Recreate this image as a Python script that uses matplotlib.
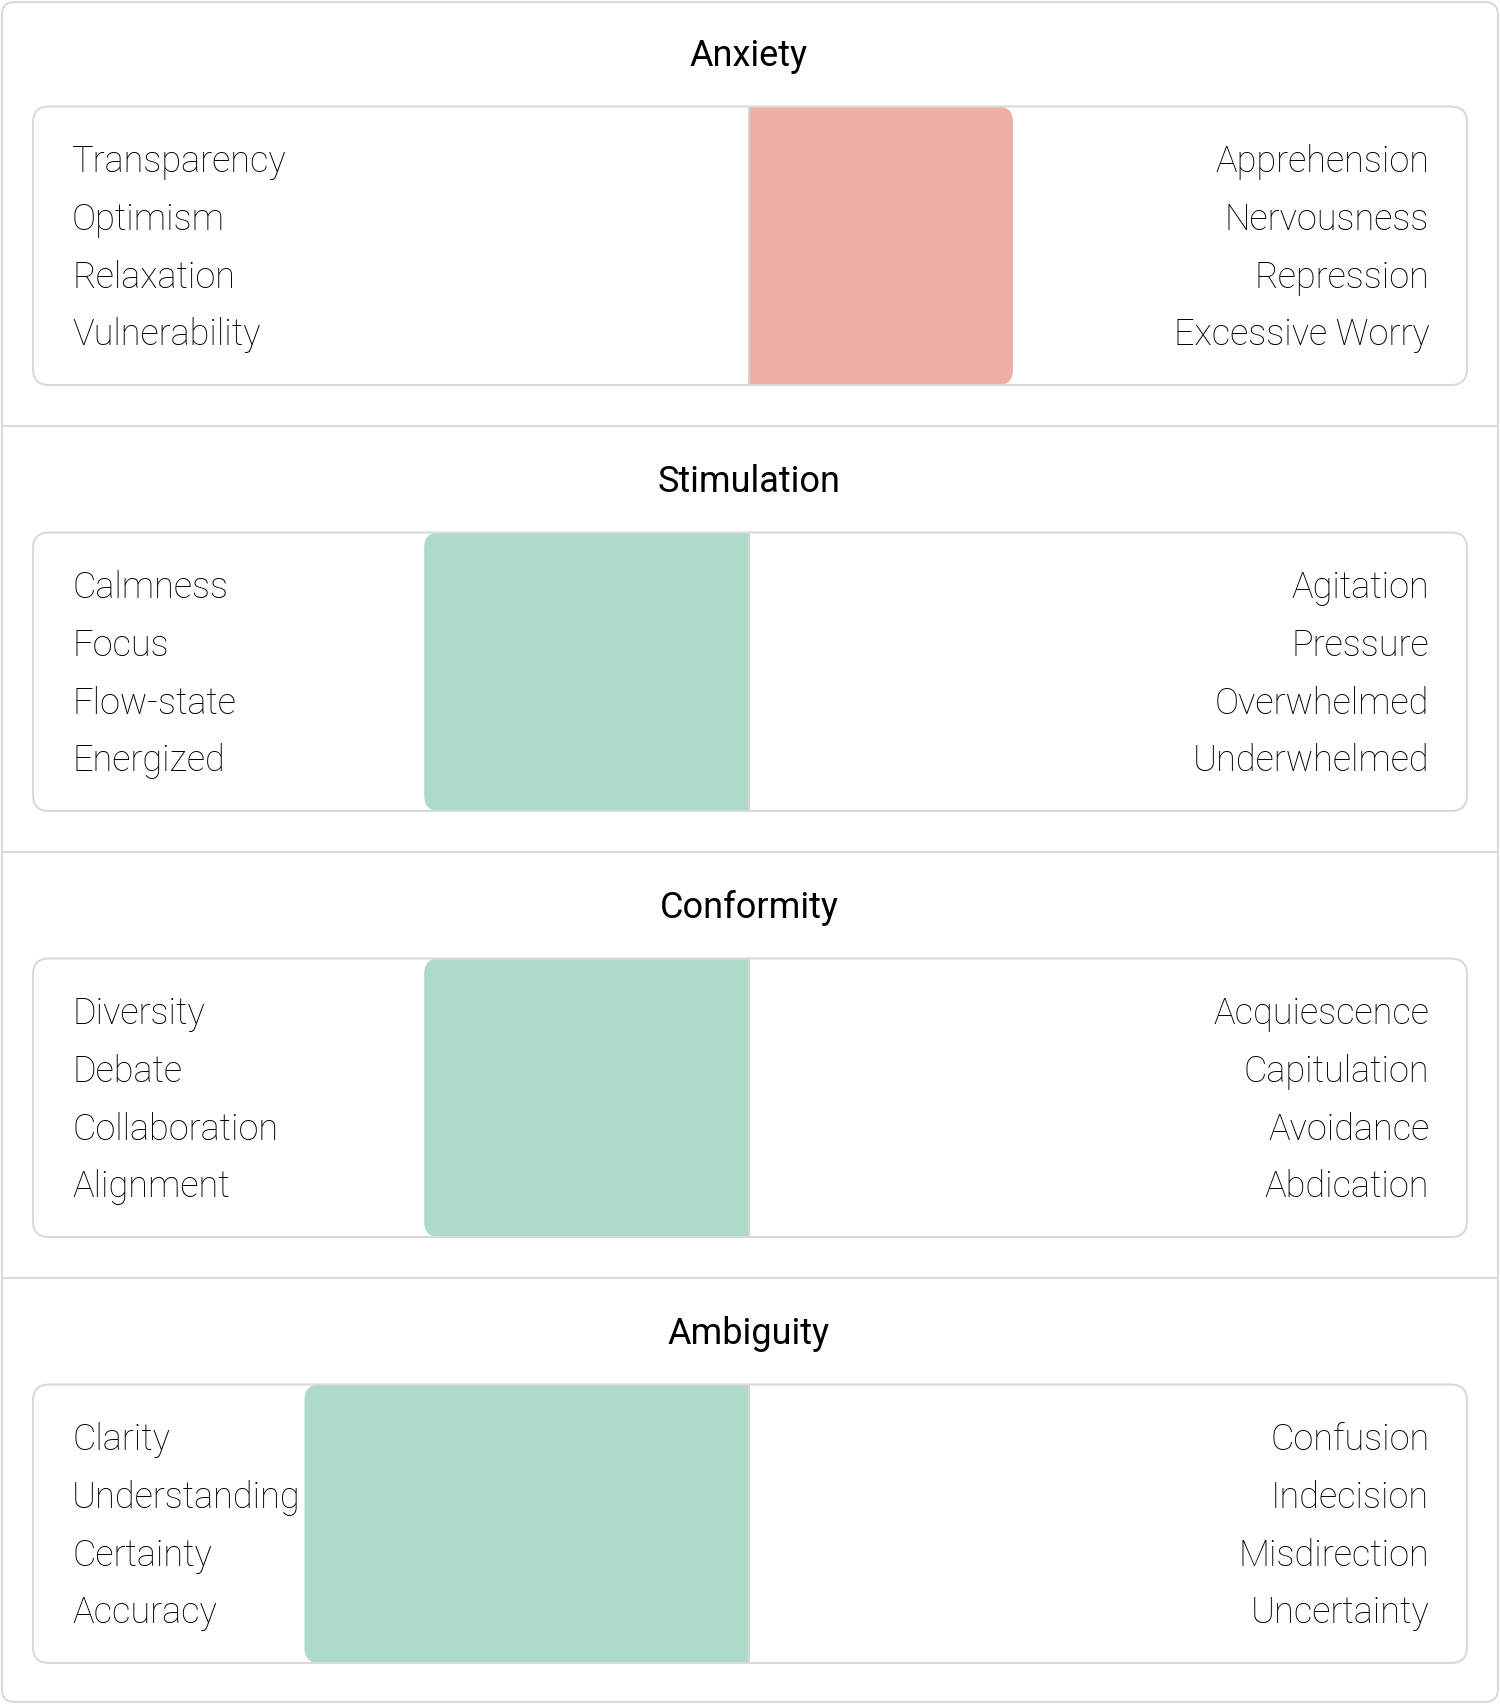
import matplotlib
matplotlib.use("Agg")
import matplotlib.pyplot as plt
from matplotlib.patches import FancyBboxPatch, Rectangle

plt.rcParams['font.family'] = ['Roboto', 'DejaVu Sans']

# data
dimensions = ['Anxiety', 'Stimulation', 'Conformity', 'Ambiguity']
scores = [36.8, -45.3, -45.3, -62.0]   # -100 (left pole) .. +100 (right pole)
bar_colors = ['#ecaea5', '#aedbc8', '#aedbc8', '#aedbc8']
left_terms = [
    ['Transparency', 'Optimism', 'Relaxation', 'Vulnerability'],
    ['Calmness', 'Focus', 'Flow-state', 'Energized'],
    ['Diversity', 'Debate', 'Collaboration', 'Alignment'],
    ['Clarity', 'Understanding', 'Certainty', 'Accuracy'],
]
right_terms = [
    ['Apprehension', 'Nervousness', 'Repression', 'Excessive Worry'],
    ['Agitation', 'Pressure', 'Overwhelmed', 'Underwhelmed'],
    ['Acquiescence', 'Capitulation', 'Avoidance', 'Abdication'],
    ['Confusion', 'Indecision', 'Misdirection', 'Uncertainty'],
]

W, H = 1500, 1704
BORDER = '#dadada'
TEXT = '#000000'

fig = plt.figure(figsize=(W / 100, H / 100), dpi=100)
bg = fig.add_axes([0, 0, 1, 1])
bg.set_xlim(0, W)
bg.set_ylim(H, 0)
bg.axis('off')

# outer card
bg.add_patch(FancyBboxPatch((2, 2), W - 4, H - 4,
                            boxstyle="round,pad=0,rounding_size=13",
                            fc='white', ec=BORDER, lw=1.5))

pitch = 426
px, pw, ph, ptop = 33, 1434, 278.5, 106.5
mid = 749           # where the zero line sits
r_px = 15

for i, dim in enumerate(dimensions):
    top = i * pitch
    if i > 0:
        bg.plot([2, W - 2], [top - 0.5, top - 0.5], color=BORDER, lw=1.5)
    bg.text(W / 2 - 1, top + 66, dim, ha='center', va='baseline',
            fontsize=26, color=TEXT)

    y0 = top + ptop
    ax = fig.add_axes([px / W, 1 - (y0 + ph) / H, pw / W, ph / H])
    half = pw / 2
    ax.set_xlim(-(mid - px) / half * 100, (px + pw - mid) / half * 100)
    ax.set_ylim(0, 1)
    ax.axis('off')
    ax.patch.set_alpha(0)

    # bar with rounded outer end only
    v = scores[i]
    rx = r_px * 200 / pw
    asp = (r_px / ph) / rx
    ax.add_patch(FancyBboxPatch((min(v, 0), 0), abs(v), 1,
                                boxstyle=f"round,pad=0,rounding_size={rx}",
                                mutation_aspect=asp, fc=bar_colors[i],
                                ec='none', zorder=1))
    ax.add_patch(Rectangle((min(v / 2, 0), 0), abs(v) / 2, 1,
                           fc=bar_colors[i], ec='none', zorder=1))
    ax.axvline(0, color='#d4d4d4', lw=1.5, zorder=2)

    # panel frame
    ax.add_patch(FancyBboxPatch((px, y0), pw, ph,
                                boxstyle="round,pad=0,rounding_size=16",
                                fc='none', ec=BORDER, lw=1.5,
                                transform=bg.transData, clip_on=False,
                                zorder=3))

    for j in range(4):
        yy = 0.765 - j * 0.2075
        ax.text(0.0272, yy, left_terms[i][j], transform=ax.transAxes,
                ha='left', va='baseline', fontsize=26,
                fontweight='light', color=TEXT, zorder=4)
        ax.text(0.9737, yy, right_terms[i][j], transform=ax.transAxes,
                ha='right', va='baseline', fontsize=26,
                fontweight='light', color=TEXT, zorder=4)

fig.savefig('out.png', dpi=100)
